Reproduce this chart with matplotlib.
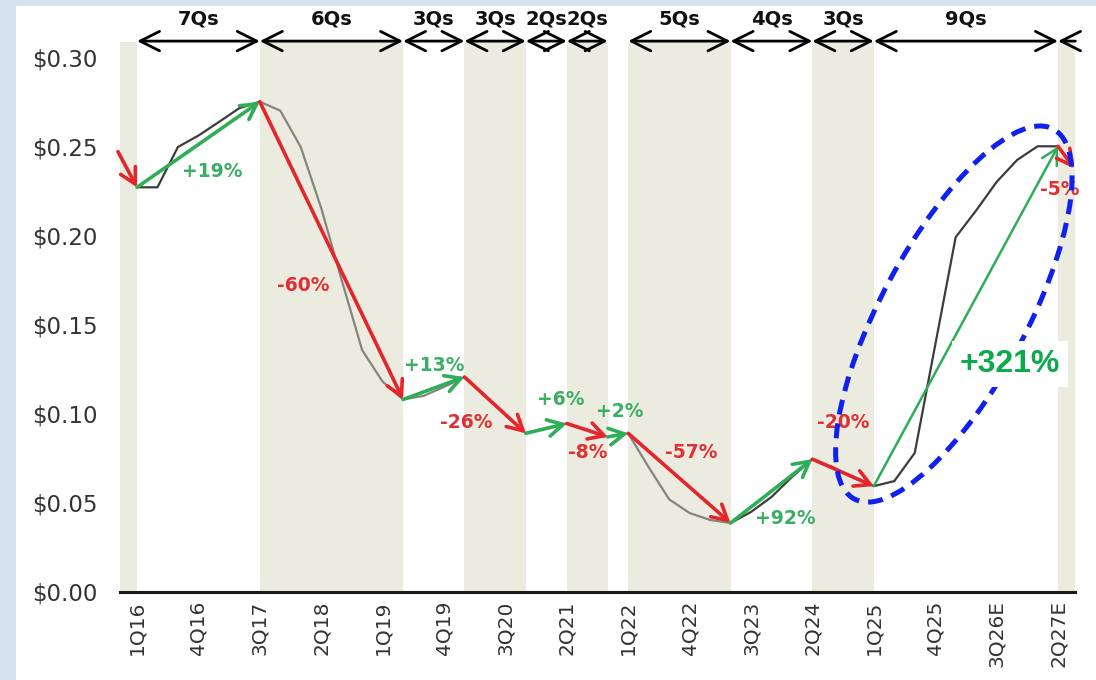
import numpy as np
import matplotlib.pyplot as plt
from matplotlib.patches import FancyArrowPatch, Ellipse, Rectangle
from matplotlib.transforms import ScaledTranslation

#quarter index 0 = 1Q16, price per quarter
price = [0.227, 0.227, 0.2496, 0.256, 0.2636, 0.2714, 0.275, 0.270, 0.2496, 0.2154,
         0.175, 0.1357, 0.118, 0.108, 0.110, 0.115, 0.1206, 0.110, 0.0995, 0.089,
         0.092, 0.0945, 0.091, 0.087, 0.089, 0.070, 0.052, 0.0443, 0.0404, 0.0387,
         0.0449, 0.0533, 0.0645, 0.0745, 0.070, 0.064, 0.0594, 0.0622, 0.078, 0.1385,
         0.199, 0.214, 0.230, 0.2423, 0.250, 0.250]
quarters = np.arange(len(price))

#turning points (quarter index) joined by arrows
pivots = [0, 6, 13, 16, 19, 21, 23, 24, 29, 33, 36, 45]
lead_in = (-0.93, 0.247)
lead_out = (45.8, 0.2375)

#percent labels
pct_text = ['+19%', '-60%', '+13%', '-26%', '+6%', '-8%', '+2%', '-57%', '+92%', '-20%', '-5%']
pct_x = [3.7, 8.1, 14.5, 16.07, 20.7, 22.0, 23.6, 27.06, 31.66, 34.5, 45.1]
pct_y = [0.2356, 0.172, 0.1268, 0.0948, 0.108, 0.078, 0.101, 0.0785, 0.0415, 0.0948, 0.2255]

#cycle lengths on top
span_start = [0, 6, 13, 16, 19, 21, 24, 29, 33, 36]
span_end = [6, 13, 16, 19, 21, 23, 29, 33, 36, 45]
span_label = ['7Qs', '6Qs', '3Qs', '3Qs', '2Qs', '2Qs', '5Qs', '4Qs', '3Qs', '9Qs']

#shaded down-cycle bands
band_start = [-0.83, 6, 16, 21, 24, 33, 45]
band_end = [0, 13, 19, 23, 29, 36, 45.83]

tick_pos = list(range(0, 46, 3))
tick_labels = ['1Q16', '4Q16', '3Q17', '2Q18', '1Q19', '4Q19', '3Q20', '2Q21', '1Q22',
               '4Q22', '3Q23', '2Q24', '1Q25', '4Q25', '3Q26E', '2Q27E']
y_ticks = [0.0, 0.05, 0.10, 0.15, 0.20, 0.25, 0.30]

RED = '#e3262b'
GREEN = '#2fae58'
GREEN_TXT = '#3aae62'
RED_TXT = '#de3035'

fig = plt.figure(figsize=(10.96, 6.8), dpi=100)
fig.patch.set_facecolor('#d7e2ef')
fig.patches.append(Rectangle((16/1096, 0), 1, 1 - 6/680, transform=fig.transFigure,
                             facecolor='white', edgecolor='none', zorder=-10))
ax = fig.add_axes([120/1096, 88/680, 955/1096, 550/680])
ax.set_facecolor('none')
ax.set_xlim(-0.83, 45.83)
ax.set_ylim(0, 0.3085)

for s, e in zip(band_start, band_end):
    ax.axvspan(s, e, color='#ecebe0', lw=0, zorder=0)

#quarterly line
ax.plot(quarters[:7], price[:7], color='#3c3c3c', lw=1.6, zorder=2)
ax.plot(quarters[6:30], price[6:30], color='#85857d', lw=1.6, zorder=2)
ax.plot(quarters[29:], price[29:], color='#3c3c3c', lw=1.6, zorder=2)

def draw_arrow(p0, p1, color, lw=2.6):
    a = FancyArrowPatch(p0, p1, arrowstyle='->,head_length=0.55,head_width=0.3',
                        mutation_scale=20, color=color, lw=lw, shrinkA=0, shrinkB=0,
                        zorder=3, clip_on=False)
    ax.add_patch(a)

draw_arrow(lead_in, (pivots[0], price[pivots[0]]), RED)
for i0, i1 in zip(pivots[:-1], pivots[1:]):
    c = GREEN if price[i1] > price[i0] else RED
    w = 1.8 if i1 == 45 else 2.6
    draw_arrow((i0, price[i0]), (i1, price[i1]), c, w)
draw_arrow((pivots[-1], price[pivots[-1]]), lead_out, RED)

for t, x, y in zip(pct_text, pct_x, pct_y):
    col = GREEN_TXT if t.startswith('+') else RED_TXT
    ax.text(x, y, t, color=col, fontsize=13.5, fontweight='bold', ha='center', va='center', zorder=4)

#top span arrows
for s, e, lab in zip(span_start, span_end, span_label):
    a = FancyArrowPatch((s, 0.309), (e, 0.309), arrowstyle='<->,head_length=0.7,head_width=0.35',
                        mutation_scale=20, color='black', lw=2.0, shrinkA=0, shrinkB=0, clip_on=False)
    ax.add_patch(a)
    ax.text((s + e) / 2, 0.3212, lab, fontsize=14, fontweight='bold', ha='center', va='center',
            color='#111111', clip_on=False)
a = FancyArrowPatch((45, 0.309), (45.85, 0.309), arrowstyle='<-,head_length=0.7,head_width=0.35',
                    mutation_scale=20, color='black', lw=2.0, shrinkA=0, shrinkB=0, clip_on=False)
ax.add_patch(a)

#dashed ellipse round the upturn, sized in inches at a data-coords centre
ell = Ellipse((0, 0), 4.20, 1.45, angle=61.7, fill=False, edgecolor='#1020ee', lw=3.6,
              linestyle=(0, (3, 1.8)), zorder=5,
              transform=fig.dpi_scale_trans + ScaledTranslation(39.91, 0.1559, ax.transData))
ax.add_patch(ell)

ax.text(42.65, 0.128, '+321%', fontsize=23, fontweight='bold', family='Liberation Sans',
        color='#0bab4b', ha='center', va='center', zorder=6,
        bbox=dict(boxstyle='square,pad=0.25', facecolor='white', edgecolor='none'))

ax.set_xticks(tick_pos)
ax.set_xticklabels(tick_labels, rotation=90, fontsize=14.5, color='#333333')
ax.set_yticks(y_ticks)
ax.set_yticklabels([f'${v:.2f}' for v in y_ticks], fontsize=16.5, color='#333333')
ax.tick_params(axis='x', length=0, pad=6)
ax.tick_params(axis='y', length=0, pad=16)
for side in ['left', 'right', 'top']:
    ax.spines[side].set_visible(False)
ax.spines['bottom'].set_linewidth(2.2)
ax.spines['bottom'].set_color('#1a1a1a')

plt.savefig('out.png', dpi=100, facecolor=fig.get_facecolor())
